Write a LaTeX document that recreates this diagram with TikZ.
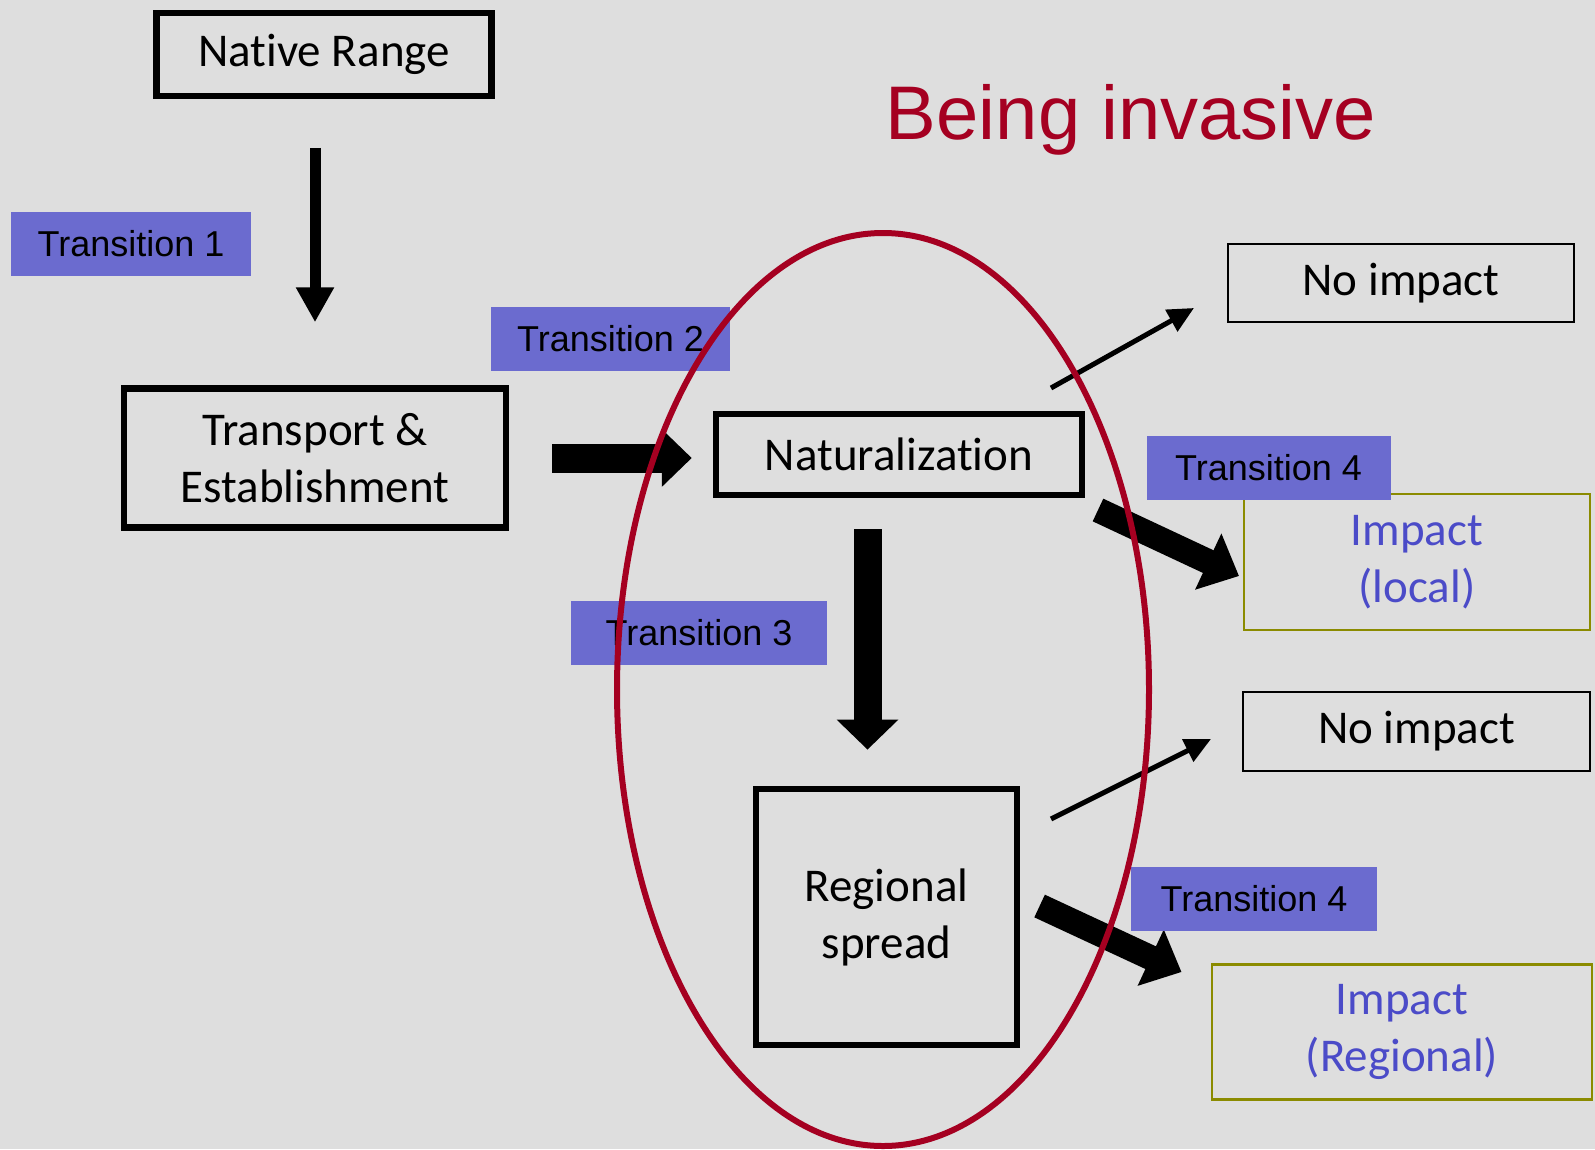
\documentclass[tikz,border=0pt]{standalone}
\usepackage{fontspec}
\setmainfont{Carlito}[Ligatures=NoCommon]
\newfontfamily\arialfont{Liberation Sans}
\usetikzlibrary{arrows.meta}
\definecolor{slidebg}{HTML}{DEDEDE}
\definecolor{tagblue}{HTML}{6B6BCF}
\definecolor{invred}{HTML}{A50021}
\definecolor{impblue}{HTML}{4B4BC8}
\definecolor{impolive}{HTML}{8B8B00}
\tikzset{
 stage/.style={draw=black, line width=6.5pt, align=center, inner sep=0pt, font=\fontsize{47}{57}\selectfont},
 outcome/.style={draw=black, line width=2pt, align=center, inner sep=0pt, font=\fontsize{47}{57}\selectfont},
 impactbox/.style={draw=impolive, line width=2.5pt, text=impblue, align=center, inner sep=0pt, font=\fontsize{47}{57}\selectfont},
 tag/.style={fill=tagblue, inner sep=0pt, minimum height=64pt, font=\arialfont\fontsize{36}{40}\selectfont},
 slimflow/.style={line width=11pt, -{Triangle[width=36pt,length=35pt]}},
 bigflow/.style={line width=29pt, -{Triangle[width=56pt,length=30pt]}},
 diagflow/.style={line width=25pt, -{Triangle[width=60pt,length=34pt]}},
 thinflow/.style={line width=5pt, -{Triangle[width=24pt,length=26pt]}}
}

\begin{document}
\begin{tikzpicture}[x=1pt, y=-1pt]
 \useasboundingbox (0,0) rectangle (1595,1149);
 \fill[slidebg] (0,0) rectangle (1595,1149);

 \node[stage, minimum width=335pt, minimum height=83pt] (native) at (324,54.5) {Native Range};
 \node[stage, minimum width=382pt, minimum height=139pt] (transport) at (315,458) {Transport \&\\Establishment};
 \node[stage, minimum width=366pt, minimum height=81pt] (nat) at (899,454.5) {Naturalization};
 \node[stage, minimum width=261pt, minimum height=256pt] (regional) at (886.5,917) {Regional\\spread};
 \node[outcome, minimum width=346pt, minimum height=77.5pt] (noimpA) at (1401,283) {No impact};
 \node[outcome, minimum width=347pt, minimum height=79pt] (noimpB) at (1416.5,731.5) {No impact};
 \node[impactbox, minimum width=346pt, minimum height=136pt] (implocal) at (1417,562) {Impact\\(local)};
 \node[impactbox, minimum width=380pt, minimum height=135pt] (impreg) at (1402,1032) {Impact\\(Regional)};

 \node[text=invred, font=\arialfont\fontsize{76}{80}\selectfont] (title) at (1131,120) {Being invasive};

 \coordinate (natdown) at (867.5,529);
 \coordinate (regup) at (867.5,749.6);
 \coordinate (natout) at (1051,388);
 \coordinate (noA) at (1194,308);
 \coordinate (natimp) at (1098,510);
 \coordinate (locin) at (1239,576);
 \coordinate (regout) at (1051,819);
 \coordinate (noB) at (1211,739);
 \coordinate (regimp) at (1039.6,906);
 \coordinate (regin) at (1181.5,972);

 \draw[slimflow, shorten <=48.5pt, shorten >=63pt] (native.south -| transport.north) -- (transport.north);
 \draw[bigflow, shorten <=43pt, shorten >=21pt] (transport.east) -- (transport.east -| nat.west);
 \draw[bigflow, line width=28pt, -{Triangle[width=60pt,length=30pt]}] (natdown) -- (regup);
 \draw[thinflow] (natout) -- (noA);
 \draw[diagflow] (natimp) -- (locin);
 \draw[thinflow] (regout) -- (noB);
 \draw[diagflow] (regimp) -- (regin);

 \node[tag, minimum width=240pt] (tA) at (131,243.5) {Transition 1};
 \node[tag, minimum width=239pt] (tB) at (610.5,338.5) {Transition 2};
 \node[tag, minimum width=256pt] (tC) at (699,633) {Transition 3};
 \node[tag, minimum width=244pt] (tD) at (1268.5,468) {Transition 4};
 \node[tag, minimum width=246pt] (tE) at (1254,899) {Transition 4};

 \draw[invred, line width=6pt] (883,689.5) ellipse [x radius=266pt, y radius=456.5pt];
\end{tikzpicture}
\end{document}
